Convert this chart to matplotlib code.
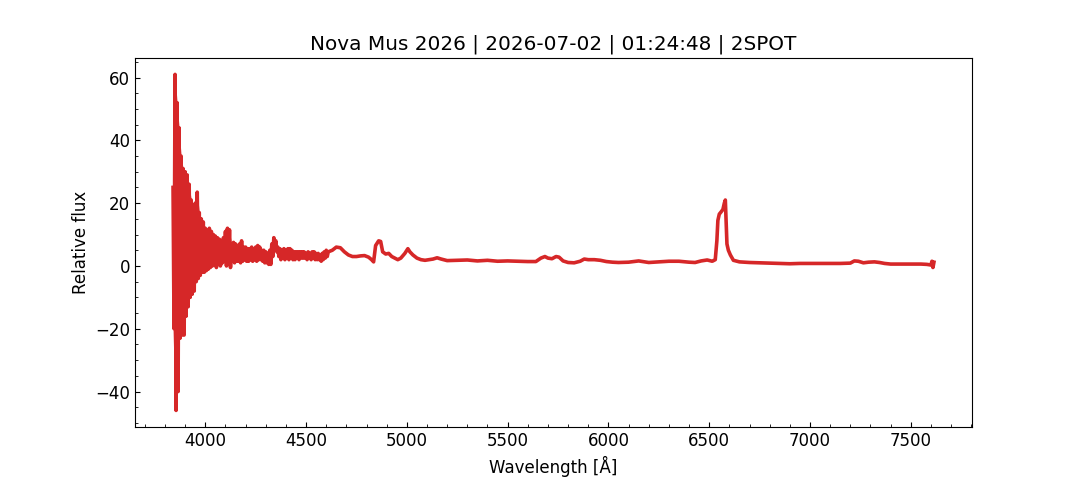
import numpy as np
import matplotlib
matplotlib.use("Agg")
import matplotlib.pyplot as plt

# noisy blue end: upper / lower envelope, 10 A grid
noisy_wl = np.arange(3840, 4610, 10)
noisy_hi = [25, 61, 52, 44, 35, 31, 30, 29, 26, 21,
            18, 20, 23.5, 17, 15, 14, 12, 11, 12, 11,
            10, 9.5, 9, 8.5, 8, 9, 11, 12, 11.5, 7,
            7.5, 7, 6.5, 7, 8, 6, 6, 5.5, 5.5, 6,
            5.5, 6, 6.5, 6, 5, 5, 4.5, 4, 5, 7,
            9, 8, 6, 5.5, 5, 5.5, 5, 5.5, 5.5, 5,
            4.5, 4.5, 4.5, 4.5, 4.5, 4.5, 4, 4.5, 4, 4.5,
            4.5, 4, 4, 3.5, 4, 4.5, 5]
noisy_lo = [-20, -46, -40, -23, -22, -22, -16, -13, -10, -9,
            -8, -5, -4, -3, -2, -2, -1.5, -1, -0.5, 0,
            0.5, -0.5, 0.5, 0, 1, 1.5, 0, 1.5, -0.5, 1.5,
            1, 1.5, 1.5, 1, 1.5, 2, 1.5, 1.5, 2, 1.5,
            2, 1.5, 2, 2, 1.5, 1, 1, 0.5, 0.5, 3,
            5, 4.5, 3, 2, 2.5, 2, 2.5, 2, 2.5, 2,
            2, 2.5, 2, 2.5, 2.5, 2.5, 2, 2.5, 2, 2.5,
            2, 2, 2, 1.5, 2, 2.5, 3]

# smoother red part of the spectrum
smooth_wl = [4610, 4630, 4650, 4670, 4690, 4710, 4730, 4750, 4770, 4790,
             4810, 4825, 4835, 4845, 4860, 4870, 4880, 4895, 4910, 4925,
             4940, 4955, 4970, 4990, 5005, 5015, 5030, 5050, 5070, 5090,
             5110, 5130, 5150, 5170, 5200, 5250, 5300, 5350, 5400, 5450,
             5500, 5550, 5600, 5640, 5665, 5685, 5700, 5720, 5740, 5755,
             5775, 5800, 5830, 5860, 5880, 5900, 5930, 5960, 5990, 6020,
             6050, 6100, 6150, 6200, 6250, 6300, 6350, 6400, 6430, 6460,
             6490, 6515, 6530, 6538, 6543, 6550, 6560, 6568, 6575, 6580,
             6584, 6588, 6595, 6605, 6620, 6650, 6700, 6750, 6800, 6850,
             6900, 6950, 7000, 7050, 7100, 7150, 7200, 7220, 7240, 7265,
             7290, 7320, 7345, 7370, 7400, 7450, 7500, 7550, 7580, 7600,
             7605, 7610, 7615]
smooth_fl = [4.5, 5, 6, 5.8, 4.5, 3.5, 3, 3, 3.2, 3.3,
             2.8, 2, 1.3, 6.5, 8, 7.8, 4.5, 3.8, 4, 3,
             2.5, 2, 2.5, 4, 5.5, 4.5, 3.5, 2.5, 2, 1.8,
             2, 2.2, 2.6, 2.2, 1.7, 1.8, 1.9, 1.6, 1.8, 1.5,
             1.6, 1.5, 1.4, 1.4, 2.5, 3, 2.5, 2.3, 3, 2.8,
             1.6, 1.1, 1.0, 1.5, 2.2, 2, 2, 1.8, 1.4, 1.2,
             1.1, 1.2, 1.6, 1.1, 1.3, 1.5, 1.5, 1.2, 1.1, 1.6,
             1.9, 1.5, 2, 8, 14.5, 16.5, 17.3, 18, 20, 21,
             14, 7, 5, 3.5, 1.8, 1.3, 1.1, 1.0, 0.9, 0.8,
             0.7, 0.8, 0.8, 0.8, 0.8, 0.8, 0.9, 1.6, 1.5, 1.0,
             1.2, 1.3, 1.1, 0.8, 0.6, 0.6, 0.6, 0.6, 0.5, 0.3,
             1.5, -0.5, 1.2]

plt.rcParams["font.size"] = 12

# interleave upper and lower envelope so the noise fills in
wl = []
fl = []
for w, hi, lo in zip(noisy_wl, noisy_hi, noisy_lo):
    wl += [w, w + 5]
    fl += [hi, lo]
wl += smooth_wl
fl += smooth_fl

fig, ax = plt.subplots(figsize=(10.8, 4.8), dpi=100)
ax.fill_between(noisy_wl, noisy_lo, noisy_hi, color="tab:red", lw=0)
ax.plot(wl, fl, color="tab:red", lw=2.6)
ax.set_title("Nova Mus 2026 | 2026-07-02 | 01:24:48 | 2SPOT")
ax.set_xlabel("Wavelength [Å]")
ax.set_ylabel("Relative flux")
ax.minorticks_on()
ax.tick_params(which="both", direction="in")
fig.savefig("out.png", dpi=100)
